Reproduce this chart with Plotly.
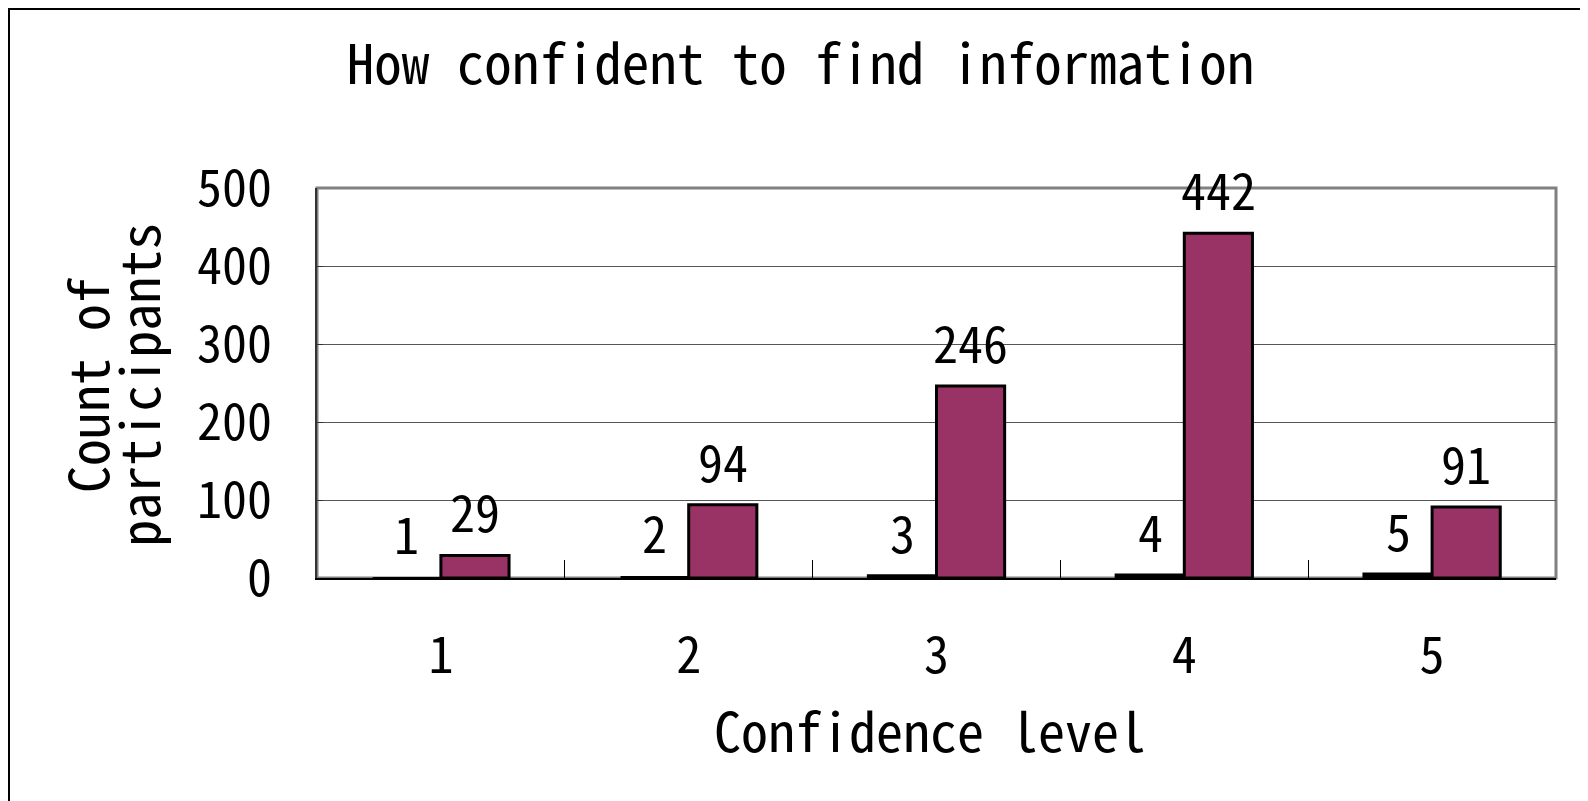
import plotly.graph_objects as go

# Confidence level categories and the two plotted series
levels = ["1", "2", "3", "4", "5"]
level_values = [1, 2, 3, 4, 5]
counts = [29, 94, 246, 442, 91]

FONT = "Noto Sans Mono CJK JP, Noto Sans CJK JP, DejaVu Sans Mono"

fig = go.Figure()

# first series: the level itself (tiny bars, sitting on the axis)
fig.add_trace(go.Bar(
    x=levels, y=level_values, name="Level",
    marker=dict(color="black", line=dict(color="black", width=[0, 0, 3, 3, 3])),
))

# second series: count of participants
fig.add_trace(go.Bar(
    x=levels, y=counts, name="Count",
    marker=dict(color="#993366", line=dict(color="black", width=3)),
))

# value labels above each bar (half a bar width left/right of the category centre);
# annotations on a category axis take the category index
for i, v in enumerate(level_values):
    fig.add_annotation(x=i, y=v, xref="x", yref="y", text=str(v), showarrow=False,
                       xshift=-34, yshift=7, yanchor="bottom",
                       font=dict(family=FONT, size=50, color="black"))
for i, v in enumerate(counts):
    fig.add_annotation(x=i, y=v, xref="x", yref="y", text=str(v), showarrow=False,
                       xshift=34, yshift=7, yanchor="bottom",
                       font=dict(family=FONT, size=50, color="black"))

fig.update_layout(
    width=1588, height=801,
    margin=dict(l=309, r=40, t=180, b=231),
    paper_bgcolor="white", plot_bgcolor="white",
    barmode="group", bargap=0.45, bargroupgap=0,
    showlegend=False,
    font=dict(family=FONT, color="black"),
    title=dict(text="How confident to find information",
               x=0.499, xanchor="center", y=0.929, yanchor="middle",
               font=dict(family=FONT, size=55, color="black")),
)

fig.update_xaxes(
    type="category", showgrid=False, automargin=False,
    range=[-0.5, len(levels) - 0.5],
    showline=True, linecolor="black", linewidth=2,
    ticks="inside", tickson="boundaries", ticklen=18, tickcolor="black", tickwidth=1,
    tickfont=dict(family=FONT, size=50, color="black"),
    ticklabelstandoff=33,
)

fig.update_yaxes(
    range=[0, 500], dtick=100, automargin=False,
    showgrid=True, gridcolor="#555555", gridwidth=1,
    showline=True, linecolor="#333333", linewidth=2,
    ticks="inside", ticklen=6, tickcolor="#333333",
    tickfont=dict(family=FONT, size=50, color="black"),
    ticklabelstandoff=33, zeroline=False,
)

# gray frame at the top and right of the plot area
fig.add_shape(type="rect", xref="paper", yref="paper", x0=0, y0=0, x1=1, y1=1,
              line=dict(color="#808080", width=3), layer="below")

# outer chart border
fig.add_shape(type="rect", xref="paper", yref="paper",
              x0=-0.2486, y0=-0.5897, x1=1.0315, y1=1.459,
              line=dict(color="black", width=2), layer="below")

# y axis title, two lines set close together
fig.add_annotation(text="Count of", xref="paper", yref="paper",
                   x=-0.1864, y=0.495, xanchor="center", yanchor="middle",
                   textangle=-90, showarrow=False,
                   font=dict(family=FONT, size=54, color="black"))
fig.add_annotation(text="participants", xref="paper", yref="paper",
                   x=-0.1455, y=0.495, xanchor="center", yanchor="middle",
                   textangle=-90, showarrow=False,
                   font=dict(family=FONT, size=54, color="black"))

fig.add_annotation(text="Confidence level", xref="paper", yref="paper",
                   x=0.4944, y=-0.387, xanchor="center", yanchor="middle",
                   showarrow=False,
                   font=dict(family=FONT, size=54, color="black"))

fig.write_html("out.html")
